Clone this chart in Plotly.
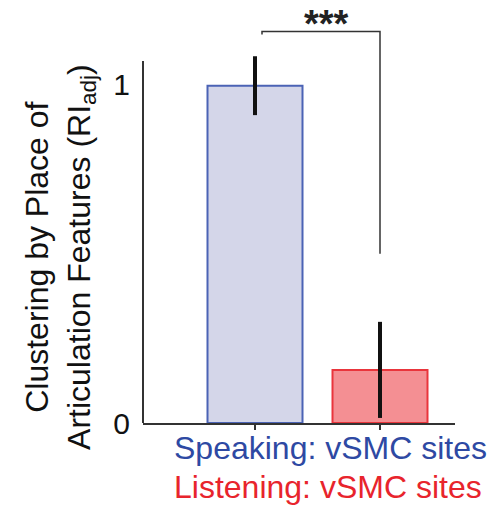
import plotly.graph_objects as go

categories = ["Speaking: vSMC sites", "Listening: vSMC sites"]
values = [0.997, 0.157]
errors = [0.087, 0.142]
fill_colors = ["#D4D6E9", "#F48F93"]
line_colors = ["#4B63B5", "#E9353C"]
text_colors = ["#2E49A3", "#E8242C"]
y_ticks = [0, 1]
y_tick_labels = ["0", "1"]
sig_label = "<b>***</b>"
bracket_y = 1.157
bracket_left_bottom = 1.148
bracket_right_bottom = 0.50
axis_top = 1.07

FONT = "Liberation Sans, Arial, sans-serif"

fig = go.Figure()
fig.add_trace(go.Bar(
    x=categories, y=values,
    width=0.76,
    marker=dict(color=fill_colors, line=dict(color=line_colors, width=2)),
    error_y=dict(type="data", array=errors, visible=True, color="#111111",
                 thickness=4, width=0),
    showlegend=False,
))

# significance bracket
fig.add_shape(type="path",
              path=f"M 0.056 {bracket_left_bottom} L 0.056 {bracket_y} L 1 {bracket_y} L 1 {bracket_right_bottom}",
              xref="x", yref="y", line=dict(color="#333333", width=1.5))
fig.add_annotation(x=0.57, y=1.18, xref="x", yref="y", text=sig_label,
                   showarrow=False, yanchor="middle",
                   font=dict(family=FONT, size=38, color="#222222"))

# y axis line (only up to axis_top)
fig.add_shape(type="line", xref="x domain", yref="y", x0=0, x1=0, y0=0, y1=axis_top,
              line=dict(color="#333333", width=2))

# y title
fig.add_annotation(xref="paper", yref="paper", x=-0.266, y=0.409,
                   text="Clustering by Place of<br>Articulation Features (RI<sub>adj</sub>)",
                   textangle=-90, showarrow=False, xanchor="center", yanchor="middle",
                   font=dict(family=FONT, size=32, color="#111111"))

# category labels
for i, (c, col) in enumerate(zip(categories, text_colors)):
    fig.add_annotation(xref="paper", yref="paper", x=0.0926, y=-0.0616 - i * 0.096,
                       text=c, showarrow=False, xanchor="left", yanchor="middle",
                       font=dict(family=FONT, size=32, color=col))

fig.update_layout(
    width=504, height=507,
    margin=dict(l=143, r=49, t=17, b=84),
    plot_bgcolor="white", paper_bgcolor="white",
    bargap=0.24,
)
fig.update_xaxes(range=[-0.896, 1.6], showline=True, linecolor="#333333", linewidth=2,
                 ticks="outside", ticklen=5, tickcolor="#333333", tickwidth=1.5,
                 showticklabels=False, showgrid=False, zeroline=False)
fig.update_yaxes(range=[0, 1.2], showline=False, ticks="", tickvals=y_ticks,
                 ticktext=y_tick_labels, showgrid=False, zeroline=False,
                 ticklabelstandoff=12,
                 tickfont=dict(family=FONT, size=30, color="#111111"))

fig.write_html("out.html")
